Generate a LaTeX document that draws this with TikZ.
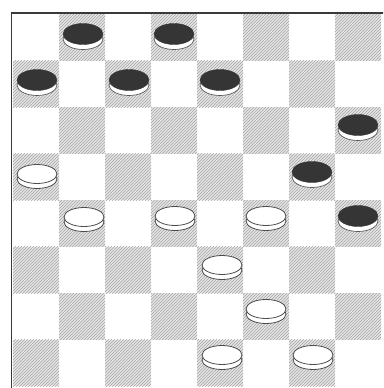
\documentclass[tikz,border=0pt]{standalone}
\usetikzlibrary{patterns,shapes.geometric}
\definecolor{pieceblack}{HTML}{353535}
\tikzset{
  darksq/.style={fill=gray!20, postaction={pattern=north east lines, pattern color=gray!70}},
  blackman/.style={ellipse, inner sep=0pt, minimum width=40pt, minimum height=21pt,
    fill=pieceblack, draw=pieceblack,
    preaction={fill=white, draw=gray!70!black, line width=0.7pt, transform canvas={yshift=-5pt}}},
  whiteman/.style={ellipse, inner sep=0pt, minimum width=40pt, minimum height=19pt,
    fill=white, draw=gray!60!black, line width=0.8pt,
    preaction={fill=white, draw=gray!60!black, line width=0.8pt, transform canvas={yshift=-5pt}}},
}
\begin{document}
\begin{tikzpicture}[x=1pt,y=-1pt]
\useasboundingbox (0,0) rectangle (383,388);
\clip (0,0) rectangle (383,388);
\fill[white] (0,0) rectangle (383,388);
% dark squares
\foreach \r in {1,...,8}{
  \foreach \c in {1,...,8}{
    \pgfmathtruncatemacro{\sqpar}{mod(\r+\c,2)}
    \ifnum\sqpar=1
      \path[darksq] ({13+46*(\c-1)},{14+46.5*(\r-1)}) rectangle ({13+46*\c},{14+46.5*\r});
    \fi
  }
}
% frame
\draw[line width=1.8pt, gray!45!black] (11.5,13) rectangle (400,400);
% black pieces
\node[blackman] (b1) at (83,34) {};
\node[blackman] (b2) at (174,34) {};
\node[blackman] (b3) at (37,80) {};
\node[blackman] (b4) at (129,80) {};
\node[blackman] (b5) at (220,80) {};
\node[blackman] (b6) at (358,125) {};
\node[blackman] (b7) at (312,172) {};
\node[blackman] (b8) at (358,216) {};
% white pieces
\node[whiteman] (w1) at (37,174) {};
\node[whiteman] (w2) at (84,217) {};
\node[whiteman] (w3) at (175,216) {};
\node[whiteman] (w4) at (266,216) {};
\node[whiteman] (w5) at (222,265) {};
\node[whiteman] (w6) at (266,309) {};
\node[whiteman] (w7) at (222,355) {};
\node[whiteman] (w8) at (313,355) {};
\end{tikzpicture}
\end{document}
